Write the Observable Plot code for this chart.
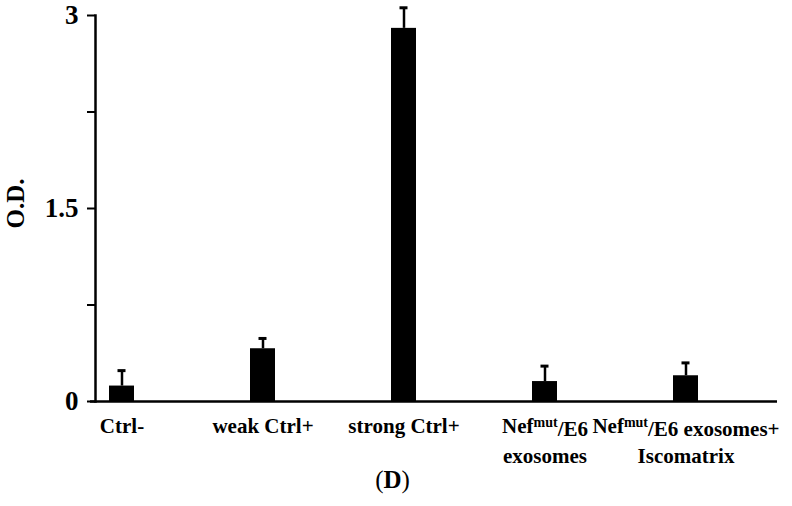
<!DOCTYPE html>
<html>
<head>
<meta charset="utf-8">
<script src="https://cdn.jsdelivr.net/npm/d3@7"></script>
<script src="https://cdn.jsdelivr.net/npm/@observablehq/plot@0.6"></script>
<style>
  html, body { margin: 0; padding: 0; background: #fff; }
  #chart svg { display: block; }
</style>
</head>
<body>
<div id="chart"></div>
<script>
const categories = ["Ctrl-", "weak Ctrl+", "strong Ctrl+", "Nefmut/E6\nexosomes", "Nefmut/E6 exosomes+\nIscomatrix"];
const values = [0.12, 0.41, 2.90, 0.155, 0.20];
const errors = [0.12, 0.08, 0.16, 0.12, 0.10];
const yTicks = [0, 0.75, 1.5, 2.25, 3];
const yTickLabels = ["0", "", "1.5", "", "3"];
const yLabel = "O.D.";
const caption = "(D)";

const data = categories.map((c, i) => ({cat: c, value: values[i], top: values[i] + errors[i]}));

const font = "'Liberation Serif', 'Times New Roman', serif";

const chart = Plot.plot({
  width: 792,
  height: 506,
  marginLeft: 95,
  marginRight: 15,
  marginTop: 15,
  marginBottom: 105,
  style: {fontFamily: font, fontWeight: "bold", color: "#000", background: "#fff", overflow: "visible"},
  x: {domain: categories, paddingInner: 0.823, paddingOuter: 0.0956, insetRight: 65},
  y: {domain: [0, 3]},
  marks: [
    Plot.axisY({
      ticks: yTicks,
      tickFormat: (d) => yTickLabels[yTicks.indexOf(d)],
      tickSize: 8,
      tickPadding: 9,
      strokeWidth: 2,
      fontSize: 27,
      fontWeight: "bold",
      label: null
    }),
    Plot.axisX({
      tickSize: 0,
      tickPadding: 12,
      fontSize: 21,
      fontWeight: "bold",
      lineHeight: 1.3,
      label: null
    }),
    Plot.barY(data, {x: "cat", y: "value", fill: "#000"}),
    Plot.ruleX(data, {x: "cat", y1: "value", y2: "top", stroke: "#000", strokeWidth: 2.5}),
    Plot.tickY(data, {x: "cat", y: "top", stroke: "#000", strokeWidth: 3, insetLeft: 8.5, insetRight: 8.5}),
    Plot.frame({anchor: "left", stroke: "#000", strokeWidth: 2.5}),
    Plot.ruleY([0], {stroke: "#000", strokeWidth: 2.5, insetLeft: -5}),
    Plot.text([yLabel], {frameAnchor: "left", textAnchor: "middle", rotate: -90, dx: -80, dy: -5, fontSize: 25, fontWeight: "bold", fill: "#000"}),
    Plot.text([caption], {frameAnchor: "bottom", dx: -44, dy: 86, fontSize: 25, fontWeight: "normal", fill: "#000"})
  ]
});

document.getElementById("chart").appendChild(chart);

d3.select(chart).selectAll("tspan, text").each(function() {
  const el = this;
  if (el.childElementCount > 0) return;
  const t = el.textContent;
  const s = d3.select(el);
  if (t.startsWith("Nefmut")) {
    // Superscript "mut" in Nef labels
    const rest = t.slice(6);
    el.textContent = "";
    s.append("tspan").text("Nef");
    s.append("tspan").attr("dy", "-0.45em").attr("font-size", "14").text("mut");
    s.append("tspan").attr("dy", "0.45em").text(rest);
  } else if (t === caption) {
    // Bold letter inside plain parentheses
    el.textContent = "";
    s.append("tspan").attr("font-weight", "normal").text(t[0]);
    s.append("tspan").attr("font-weight", "bold").text(t.slice(1, -1));
    s.append("tspan").attr("font-weight", "normal").text(t.slice(-1));
  } else if (yTickLabels.includes(t) && t !== "") {
    s.style("font-size", "27px").style("font-weight", "bold");
  }
});
</script>
</body>
</html>
